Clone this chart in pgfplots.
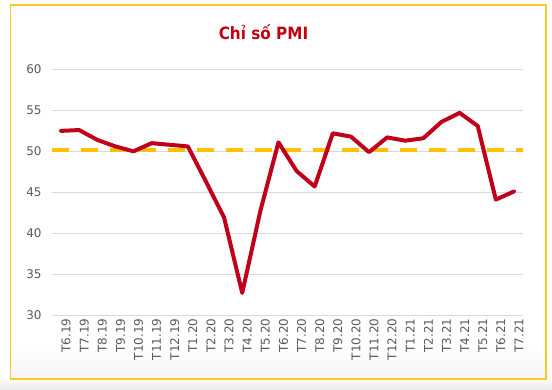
\documentclass[border=0pt]{standalone}
\usepackage{fontspec}
\setmainfont{DejaVu Sans}
\newfontfamily\titlefont{DejaVu Sans Condensed}
\usepackage{pgfplots}
\pgfplotsset{compat=1.18}
\definecolor{pmired}{RGB}{192,0,26}
\definecolor{titlered}{RGB}{192,0,20}
\definecolor{gold}{RGB}{255,192,0}
\definecolor{framegold}{RGB}{255,200,30}
\definecolor{gridgray}{RGB}{217,217,217}
\definecolor{labelgray}{RGB}{89,89,89}
\begin{document}
\begin{tikzpicture}[x=1bp,y=1bp]
\useasboundingbox (0,0) rectangle (552,389);
\fill[white] (0,0) rectangle (552,389);
\shade[top color=white, bottom color=black!8] (0,0) rectangle (552,12);
\shade[top color=white, bottom color=black!4] (10.5,10) rectangle (546,45);
\draw[framegold, line width=1.6bp] (10.5,10) rectangle (546,384);
\node[font=\titlefont\bfseries\fontsize{17}{17}\selectfont, text=titlered] at (263.5,357) {Chỉ số PMI};
\begin{axis}[
  at={(52bp,74bp)}, anchor=south west,
  scale only axis, width=471bp, height=245.5bp,
  xmin=-0.5, xmax=25.5, ymin=30, ymax=60,
  axis line style={draw=none},
  major tick length=0pt,
  ytick={30,35,...,60},
  ymajorgrids, grid style={gridgray, line width=1bp},
  xtick={0,...,25},
  xticklabels={T6.19,T7.19,T8.19,T9.19,T10.19,T11.19,T12.19,T1.20,T2.20,T3.20,T4.20,T5.20,T6.20,T7.20,T8.20,T9.20,T10.20,T11.20,T12.20,T1.21,T2.21,T3.21,T4.21,T5.21,T6.21,T7.21},
  /pgf/number format/assume math mode=true,
  tick label style={font=\fontsize{12}{12}\selectfont, text=labelgray},
  xticklabel style={rotate=90, anchor=east, yshift=-5bp},
  yticklabel style={xshift=-7bp},
  clip=false,
]
\addplot[gold, line width=4bp, dash pattern=on 17bp off 12bp] coordinates {(-0.5,50.2) (25.5,50.2)};
\addplot[pmired, line width=4bp, line join=round, line cap=round] coordinates {
(0,52.5) (1,52.6) (2,51.4) (3,50.6) (4,50.0) (5,51.0) (6,50.8) (7,50.6)
(8,46.3) (9,41.9) (10,32.7) (11,42.7) (12,51.1) (13,47.6) (14,45.7) (15,52.2)
(16,51.8) (17,49.9) (18,51.7) (19,51.3) (20,51.6) (21,53.6) (22,54.7) (23,53.1)
(24,44.1) (25,45.1)};
\end{axis}
\end{tikzpicture}
\end{document}
